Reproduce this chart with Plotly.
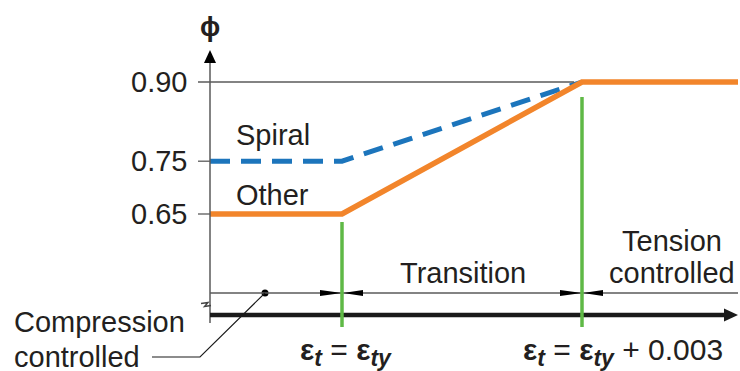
import plotly.graph_objects as go

# ---------------- data (schematic strength-reduction factor diagram) ----------------
eps_ty = 0.002                                   # yield strain of reinforcement (schematic)
strain_pts = [0.00035, eps_ty, eps_ty + 0.003, 0.00695]   # axis origin, limits, axis end
phi_other = [0.65, 0.65, 0.90, 0.90]
phi_spiral = [0.75, 0.75, 0.90]
phi_ticks = [0.90, 0.75, 0.65]
phi_tick_labels = ["0.90", "0.75", "0.65"]
strain_limits = [eps_ty, eps_ty + 0.003]
SUB = '<sub><span style="font-size:23px"><b><i>{}</i></b></span></sub>'
limit_labels = ["<b>ε</b>" + SUB.format("t") + " = <b>ε</b>" + SUB.format("ty"),
                "<b>ε</b>" + SUB.format("t") + " = <b>ε</b>" + SUB.format("ty") + " + 0.003"]
series_names = ["Spiral", "Other"]

# ---------------- layout scale helpers ----------------
W, H = 740, 371
XR = [-0.002275, 0.006975]
YR = [0.352652, 1.055303]


def px2x(px):
    return XR[0] + (XR[1] - XR[0]) * px / W


def py2y(py):
    return YR[1] - (YR[1] - YR[0]) * py / H


def dx(px):
    return (XR[1] - XR[0]) * px / W


def dy(px):
    return (YR[1] - YR[0]) * px / H


ORANGE = "#F2852B"
BLUE = "#1C75BC"
GREEN = "#5FB946"
GRAY = "#5a5a5a"
TXT = "#231F20"
FONT = "Liberation Sans, Arial, sans-serif"
FS = 29

x0 = strain_pts[0]
x_end = strain_pts[-1]
dim_y = py2y(293)
axis_y = py2y(315)
green_bottom = py2y(327)

fig = go.Figure()
shapes = []
annotations = []

# reference line at 0.90 and ticks
shapes.append(dict(type="line", x0=x0 - dx(12), x1=strain_limits[1] - dx(8), y0=phi_ticks[0], y1=phi_ticks[0],
                   line=dict(color=GRAY, width=1.3)))
for t in phi_ticks[1:]:
    shapes.append(dict(type="line", x0=x0 - dx(12), x1=x0, y0=t, y1=t, line=dict(color=GRAY, width=1.3)))

# vertical phi axis with arrow
shapes.append(dict(type="line", x0=x0, x1=x0, y0=py2y(323), y1=py2y(60), line=dict(color=GRAY, width=1.5)))
shapes.append(dict(type="path", xsizemode="pixel", ysizemode="pixel", xanchor=x0, yanchor=py2y(50),
                   path="M 0,0 L -6,-13 L 6,-13 Z", fillcolor="black", line=dict(width=0)))

# dimension line
shapes.append(dict(type="line", x0=x0, x1=x_end, y0=dim_y, y1=dim_y, line=dict(color=GRAY, width=1.3)))
for s in strain_limits:
    shapes.append(dict(type="path", xsizemode="pixel", ysizemode="pixel", xanchor=s, yanchor=dim_y,
                       path="M 0,0 L -22,3 L -22,-3 Z", fillcolor="black", line=dict(width=0)))
    shapes.append(dict(type="path", xsizemode="pixel", ysizemode="pixel", xanchor=s, yanchor=dim_y,
                       path="M 1,0 L 21,3 L 21,-3 Z", fillcolor="black", line=dict(width=0)))

# thick strain axis with arrow
shapes.append(dict(type="line", x0=x0, x1=x_end - dx(12), y0=axis_y, y1=axis_y,
                   line=dict(color="#1a1a1a", width=4.5)))
shapes.append(dict(type="path", xsizemode="pixel", ysizemode="pixel", xanchor=x_end, yanchor=axis_y,
                   path="M 0,0 L -14,6.5 L -14,-6.5 Z", fillcolor="#1a1a1a", line=dict(width=0)))

# axis break symbol
shapes.append(dict(type="path", xsizemode="pixel", ysizemode="pixel", xanchor=x0, yanchor=dim_y,
                   path="M -9,-10.5 L -2,-9.5 L -5.5,-13.5 L 1,-12.5", line=dict(color="#444", width=1.4)))

# green limit lines
shapes.append(dict(type="line", x0=strain_limits[0], x1=strain_limits[0], y0=phi_other[1] - dy(8),
                   y1=green_bottom, line=dict(color=GREEN, width=3.5)))
shapes.append(dict(type="line", x0=strain_limits[1], x1=strain_limits[1], y0=phi_other[2] - dy(15),
                   y1=green_bottom, line=dict(color=GREEN, width=3.5)))

# leader line for "Compression controlled"
dot_x = px2x(265)
shapes.append(dict(type="path", xsizemode="pixel", ysizemode="pixel", xanchor=dot_x, yanchor=dim_y,
                   path="M 0,0 L -65,-64 L -113,-64", line=dict(color="#1a1a1a", width=1.1)))

# series
fig.add_trace(go.Scatter(x=strain_pts[:3], y=phi_spiral, mode="lines", name=series_names[0],
                         line=dict(color=BLUE, width=5, dash="20px,11px"), hoverinfo="skip"))
fig.add_trace(go.Scatter(x=strain_pts, y=phi_other, mode="lines", name=series_names[1],
                         line=dict(color=ORANGE, width=5.5), hoverinfo="skip"))
fig.add_trace(go.Scatter(x=[dot_x], y=[dim_y], mode="markers", marker=dict(color="black", size=7),
                         hoverinfo="skip"))


def ann(text, x, y, xanchor="center", yanchor="middle", size=FS, align="center"):
    annotations.append(dict(text=text, x=x, y=y, xref="x", yref="y", showarrow=False,
                            xanchor=xanchor, yanchor=yanchor, align=align,
                            font=dict(family=FONT, size=size, color=TXT)))


ann("<b>ϕ</b>", x0, py2y(27), size=27)
for t, lab in zip(phi_ticks, phi_tick_labels):
    ann(lab, x0 - dx(21), t, xanchor="right")

ann(series_names[0], px2x(234), py2y(135), xanchor="left")
ann(series_names[1], px2x(234), py2y(195), xanchor="left")

ann("Transition", px2x(463), py2y(273))
ann("Tension", px2x(672), py2y(241))
ann("controlled", px2x(672), py2y(273))
ann("Compression", px2x(12), py2y(322), xanchor="left")
ann("controlled", px2x(12), py2y(357), xanchor="left")

ann(limit_labels[0], px2x(346), py2y(352), size=30)
ann(limit_labels[1], px2x(623), py2y(352), size=30)

fig.update_layout(
    width=W, height=H, margin=dict(l=0, r=0, t=0, b=0),
    paper_bgcolor="white", plot_bgcolor="white", showlegend=False,
    xaxis=dict(range=XR, visible=False, fixedrange=True),
    yaxis=dict(range=YR, visible=False, fixedrange=True),
    shapes=shapes, annotations=annotations,
)

fig.write_html("out.html", config={"displayModeBar": False},
               post_script="document.body.style.margin='0px';document.body.style.overflow='hidden';")
